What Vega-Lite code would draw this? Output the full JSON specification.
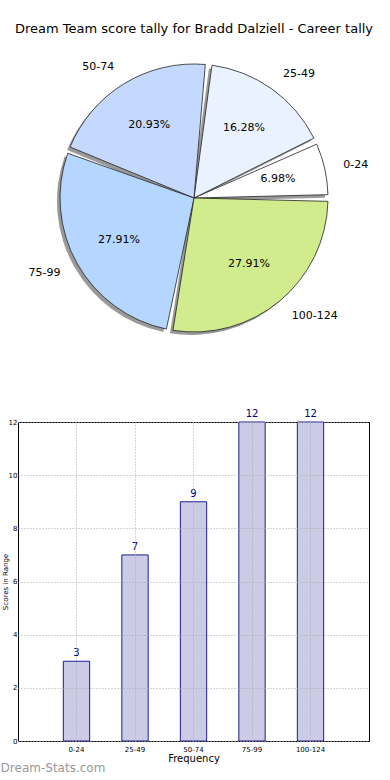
{
  "$schema": "https://vega.github.io/schema/vega-lite/v6.json",
  "padding": {"top": 23, "left": 0, "right": 0, "bottom": 0},
  "config": {"font": "DejaVu Sans", "view": {"stroke": null}},
  "datasets": {
    "slices": [
      {"range": "0-24", "count": 3, "pct": "6.98%", "i": 1, "side": "right"},
      {"range": "25-49", "count": 7, "pct": "16.28%", "i": 2, "side": "right"},
      {"range": "50-74", "count": 9, "pct": "20.93%", "i": 3, "side": "left"},
      {"range": "75-99", "count": 12, "pct": "27.91%", "i": 4, "side": "left"},
      {"range": "100-124", "count": 12, "pct": "27.91%", "i": 5, "side": "right"}
    ]
  },
  "title": {"text": "Dream-Stats.com", "orient": "bottom", "anchor": "start", "frame": "bounds", "fontSize": 12, "fontWeight": "normal", "color": "#999999", "offset": -1},
  "spacing": 58,
  "vconcat": [
    {
      "title": {"text": "Dream Team score tally for Bradd Dalziell - Career tally", "fontSize": 13, "fontWeight": "normal", "anchor": "middle", "offset": 10, "color": "#000000"},
      "width": 352,
      "height": 304,
      "data": {"name": "slices"},
      "layer": [
        {
          "mark": {"type": "arc", "radius": 134, "padAngle": 0.05, "fill": "#555555", "opacity": 0.6, "xOffset": -3, "yOffset": 3},
          "encoding": {
            "theta": {"field": "count", "type": "quantitative", "stack": true, "scale": {"range": [1.5708, -4.7124]}},
            "order": {"field": "i", "type": "quantitative"}
          }
        },
        {
          "mark": {"type": "arc", "radius": 134, "padAngle": 0.05, "stroke": "#222222", "strokeWidth": 0.8},
          "encoding": {
            "theta": {"field": "count", "type": "quantitative", "stack": true, "scale": {"range": [1.5708, -4.7124]}},
            "order": {"field": "i", "type": "quantitative"},
            "color": {"field": "range", "type": "nominal", "legend": null, "scale": {"domain": ["0-24", "25-49", "50-74", "75-99", "100-124"], "range": ["#ffffff", "#ebf2ff", "#c5d9ff", "#b4d6ff", "#d0ec8c"]}}
          }
        },
        {
          "mark": {"type": "text", "radius": 86, "fontSize": 11, "color": "#000000"},
          "encoding": {
            "theta": {"field": "count", "type": "quantitative", "stack": true, "scale": {"range": [1.5708, -4.7124]}},
            "order": {"field": "i", "type": "quantitative"},
            "text": {"field": "pct", "type": "nominal"}
          }
        },
        {
          "mark": {"type": "text", "radius": 153, "fontSize": 11, "color": "#000000", "align": "left"},
          "encoding": {
            "theta": {"field": "count", "type": "quantitative", "stack": true, "scale": {"range": [1.5708, -4.7124]}},
            "order": {"field": "i", "type": "quantitative"},
            "text": {"field": "range", "type": "nominal"},
            "opacity": {"condition": {"test": "datum.side === 'right'", "value": 1}, "value": 0}
          }
        },
        {
          "mark": {"type": "text", "radius": 153, "fontSize": 11, "color": "#000000", "align": "right"},
          "encoding": {
            "theta": {"field": "count", "type": "quantitative", "stack": true, "scale": {"range": [1.5708, -4.7124]}},
            "order": {"field": "i", "type": "quantitative"},
            "text": {"field": "range", "type": "nominal"},
            "opacity": {"condition": {"test": "datum.side === 'left'", "value": 1}, "value": 0}
          }
        }
      ]
    },
    {
      "width": 351,
      "height": 319,
      "view": {"stroke": "#000000", "strokeWidth": 1},
      "data": {"name": "slices"},
      "encoding": {
        "x": {"field": "range", "type": "nominal", "sort": null,
          "scale": {"paddingInner": 0.55, "paddingOuter": 0.775},
          "axis": {"labelAngle": 0, "labelFontSize": 7, "labelPadding": 4, "ticks": false, "domain": false, "bandPosition": 0.5, "grid": true, "gridDash": [1, 2], "gridColor": "#aaaaaa", "zindex": 1, "title": "Frequency", "titleFontSize": 10, "titleFontWeight": "normal", "titlePadding": 1, "labelColor": "#000000", "titleColor": "#000000"}},
        "y": {"field": "count", "type": "quantitative", "scale": {"domain": [0, 12]},
          "axis": {"values": [0, 2, 4, 6, 8, 10, 12], "labelFontSize": 7, "labelPadding": 1, "ticks": false, "domain": false, "grid": true, "gridDash": [1, 2], "gridColor": "#aaaaaa", "zindex": 1, "title": "Scores in Range", "titleFontSize": 7, "titleFontWeight": "normal", "titlePadding": 0, "labelColor": "#000000", "titleColor": "#000000"}}
      },
      "layer": [
        {"mark": {"type": "bar", "fill": "#cbcbe6", "stroke": "#1c1c99", "strokeWidth": 1}},
        {"mark": {"type": "text", "baseline": "bottom", "dy": -3, "fontSize": 10, "color": "#000080"},
          "encoding": {"text": {"field": "count", "type": "quantitative"}}}
      ]
    }
  ]
}
